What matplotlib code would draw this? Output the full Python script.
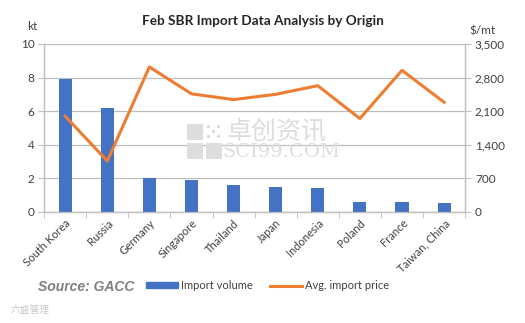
import matplotlib
matplotlib.use("Agg")
import matplotlib.pyplot as plt
import numpy as np
from matplotlib.patches import Patch, Rectangle
from matplotlib.lines import Line2D

plt.rcParams['font.family'] = ['Lato', 'DejaVu Sans']

countries = ["South Korea", "Russia", "Germany", "Singapore", "Thailand",
             "Japan", "Indonesia", "Poland", "France", "Taiwan, China"]
volume = [7.9, 6.2, 2.0, 1.9, 1.6, 1.46, 1.4, 0.56, 0.56, 0.5]
price = [1995, 1060, 3020, 2460, 2340, 2450, 2630, 1945, 2950, 2285]
left_ticks = [0, 2, 4, 6, 8, 10]
right_ticks = [0, 700, 1400, 2100, 2800, 3500]

blue = "#4472C4"
orange = "#ED7D31"
grid_c = "#BFBFBF"
text_c = "#404040"
wm_c = "#DDDDDD"

W, H = 525, 323
fig = plt.figure(figsize=(5.25, 3.23), dpi=100)
ax = fig.add_axes([0.084, 0.344, 0.802, 0.52])
ax2 = ax.twinx()

x = np.arange(len(countries))
ax.bar(x, volume, width=0.31, color=blue, zorder=3)
ax2.plot(x, price, color=orange, lw=2.2, zorder=4)

ax.set_xlim(-0.5, len(countries) - 0.5)
ax.set_ylim(0, 10)
ax2.set_ylim(0, 3500)
ax.set_yticks(left_ticks)
ax2.set_yticks(right_ticks)
ax2.set_yticklabels([f"{v:,}" for v in right_ticks])
ax.yaxis.grid(True, color=grid_c, lw=0.9, zorder=0)
ax.set_axisbelow(True)

ax.set_xticks(x)
ax.set_xticklabels(countries, rotation=45, ha='right', rotation_mode='anchor',
                   fontsize=8, color=text_c)
ax.set_xticks(np.arange(-0.5, len(countries)), minor=True)
ax.tick_params(axis='x', which='major', length=0, pad=4)
ax.tick_params(axis='x', which='minor', length=4, color=grid_c, direction='out')
ax.tick_params(axis='y', length=4, color=grid_c, labelsize=8.5, labelcolor=text_c, pad=3)
ax2.tick_params(axis='y', length=4, color=grid_c, labelsize=8.5, labelcolor=text_c, pad=3)

for a in (ax, ax2):
    a.spines['top'].set_visible(False)
    for s in ('left', 'right', 'bottom'):
        a.spines[s].set_color(grid_c)
        a.spines[s].set_linewidth(0.9)

fig.text(0.5, 0.935, "Feb SBR Import Data Analysis by Origin", ha='center', va='center',
         fontsize=9.8, fontweight='bold', color="#262626")
fig.text(0.062, 0.918, "kt", ha='center', va='center', fontsize=8.5, color=text_c)
fig.text(0.918, 0.905, "$/mt", ha='center', va='center', fontsize=8.5, color=text_c)

# watermark
def px(xp, yp):
    return xp / W, 1 - yp / H
for (x0, y0, w, h) in [(187, 124, 16, 16), (187, 143, 16, 16), (206, 143, 16, 16)]:
    fig.patches.append(Rectangle(px(x0, y0 + h), w / W, h / H, transform=fig.transFigure,
                                 color=wm_c, lw=0, zorder=1))
for i in range(3):
    for j in range(3):
        if (i + j) % 2 == 0:
            fig.patches.append(Rectangle(px(207 + i * 5, 128 + j * 5), 3 / W, 3 / H,
                                         transform=fig.transFigure, color=wm_c, lw=0, zorder=1))
fig.text(*px(227, 131), "卓创资讯", ha='left', va='center', fontsize=18, color=wm_c,
         family=['Noto Sans CJK SC', 'DejaVu Sans'], zorder=1)
fig.text(*px(222, 152), "SCI99.COM", ha='left', va='center', fontsize=14, color=wm_c,
         family=['DejaVu Serif'], zorder=1)

# legend row
fig.text(0.072, 0.11, "Source: GACC", ha='left', va='center', fontsize=10,
         fontweight='bold', fontstyle='italic', color="#7F7F7F",
         family=['Liberation Sans', 'DejaVu Sans'])
handles = [Patch(color=blue), Line2D([0], [0], color=orange, lw=2.2)]
fig.legend(handles, ["Import volume", "Avg. import price"], loc='center',
           bbox_to_anchor=(0.51, 0.115), ncol=2, frameon=False, fontsize=8,
           handlelength=2.8, handleheight=0.45, columnspacing=1.6, handletextpad=0.3,
           labelcolor=text_c)
fig.text(0.02, 0.04, "六盛管理", ha='left', va='center', fontsize=7, color="#C8C8C8",
         family=['Noto Sans CJK SC', 'DejaVu Sans'])

fig.savefig("out.png", dpi=100)
